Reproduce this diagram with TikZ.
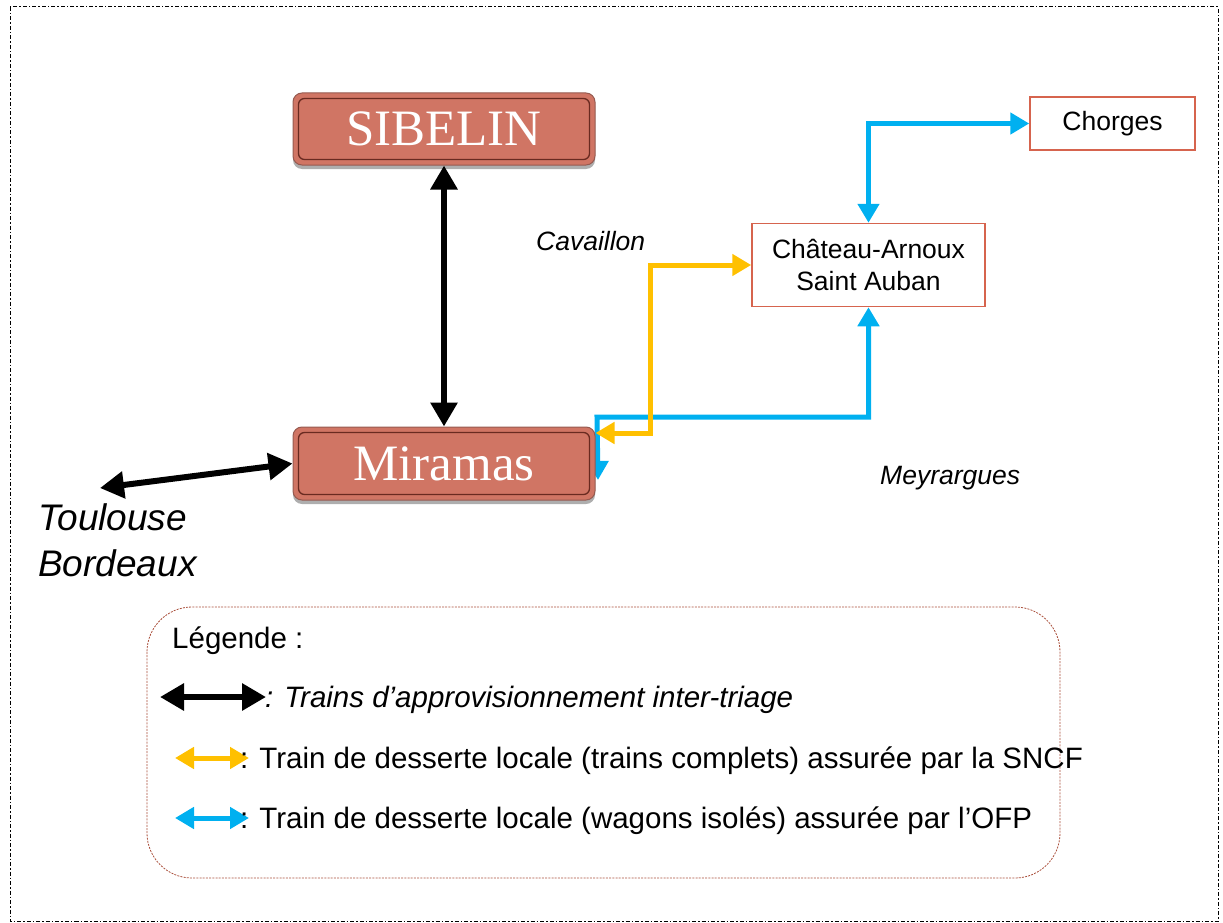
\documentclass[tikz,border=0pt]{standalone}
\usepackage{fontspec}
\setmainfont{Liberation Sans}
\newfontfamily\serifbox{Liberation Serif}
\usetikzlibrary{arrows.meta,shadows,backgrounds,calc}
\definecolor{boxfill}{RGB}{208,117,100}
\definecolor{boxedge}{RGB}{150,90,80}
\definecolor{boxinner}{RGB}{105,42,32}
\definecolor{stnedge}{RGB}{214,100,78}
\definecolor{yel}{RGB}{255,192,0}
\definecolor{blu}{RGB}{0,176,240}
\definecolor{legedge}{RGB}{170,80,60}
\begin{document}
\begin{tikzpicture}[x=1pt,y=-1pt,
  triage/.style={draw=boxedge,line width=1pt,fill=boxfill,rounded corners=9pt,
    inner sep=0pt,text=white,font=\serifbox\fontsize{51}{56}\selectfont,
    drop shadow={shadow xshift=0pt,shadow yshift=-4pt,opacity=0.45,fill=black!70}},
  innerline/.style={draw=boxinner,line width=1.3pt,rounded corners=6pt},
  station/.style={draw=stnedge,line width=1.5pt,fill=white,inner sep=0pt,align=center,
    font=\fontsize{26.5}{32}\selectfont},
  blk/.style={line width=6pt,{Triangle[length=24pt,width=26pt]}-{Triangle[length=24pt,width=26pt]}},
  yelarr/.style={draw=yel,line width=5pt,{Triangle[length=19pt,width=21pt]}-{Triangle[length=19pt,width=21pt]}},
  bluarr/.style={draw=blu,line width=5pt,{Triangle[length=19pt,width=21pt]}-{Triangle[length=19pt,width=21pt]}},
  lbl/.style={font=\fontsize{26.5}{30}\selectfont\itshape,anchor=base west,inner sep=0pt},
  legtxt/.style={font=\fontsize{29.5}{34}\selectfont,anchor=base west,inner sep=0pt}
]
\useasboundingbox (0,0) rectangle (1223,923);
% outer frame
\draw[line width=1pt,dash pattern=on 4pt off 2pt on 1.5pt off 2pt] (10,7) rectangle (1218,921);

% nodes
\node[triage,minimum width=302pt,minimum height=72pt] (sib) at (444,129) {SIBELIN};
\draw[innerline] ($(sib.north west)+(6,6)$) rectangle ($(sib.south east)+(-6,-6)$);
\node[triage,minimum width=302pt,minimum height=73pt] (mir) at (444,463.5) {Miramas};
\draw[innerline] ($(mir.north west)+(6,6)$) rectangle ($(mir.south east)+(-6,-6)$);
\node[station,minimum width=233pt,minimum height=83pt] (chat) at (868.5,265) {Château-Arnoux\\Saint Auban};
\node[station,minimum width=165pt,minimum height=53pt] (chor) at (1112.5,123.5) {Chorges};

% labels
\node[lbl] (cav) at (536,250) {Cavaillon};
\node[lbl] (mey) at (880,484) {Meyrargues};
\node[font=\fontsize{37}{46}\selectfont\itshape,align=left,anchor=north west,inner sep=0pt] (tb) at (38,503) {Toulouse\\Bordeaux};

% connectors
\coordinate (tl) at (100,488);
\draw[blk] (sib.south) -- (mir.north);
\draw[blk] (tl) -- (mir.west);
\coordinate (ybend) at (650,433);
\draw[yelarr] (chat.west) -| (ybend) -- (ybend -| mir.east);
\draw[bluarr] (chat.north) |- (chor.west);
\begin{pgfonlayer}{background}
\coordinate (bbend) at (597,417);
\coordinate (bend) at (598,480);
\draw[bluarr] (chat.south) |- (bbend) -- (bend);
\end{pgfonlayer}

% legend
\draw[legedge,line width=0.8pt,dash pattern=on 2pt off 1.2pt,rounded corners=45pt] (147,607) rectangle (1060,878);
\node[legtxt] (lg) at (172,648) {Légende :};
\coordinate (l1a) at (160,697); \coordinate (l1b) at (266,697);
\draw[blk] (l1a) -- (l1b);
\node[legtxt,font=\fontsize{29.5}{34}\selectfont\itshape] (lt1) at (265,707) {: Trains d’approvisionnement inter-triage};
\coordinate (l2a) at (175,758); \coordinate (l2b) at (249,758);
\draw[yelarr] (l2a) -- (l2b);
\node[legtxt] (lt2) at (240,768) {: Train de desserte locale (trains complets) assurée par la SNCF};
\coordinate (l3a) at (175,818); \coordinate (l3b) at (249,818);
\draw[bluarr] (l3a) -- (l3b);
\node[legtxt] (lt3) at (240,828) {: Train de desserte locale (wagons isolés) assurée par l’OFP};
\end{tikzpicture}
\end{document}
